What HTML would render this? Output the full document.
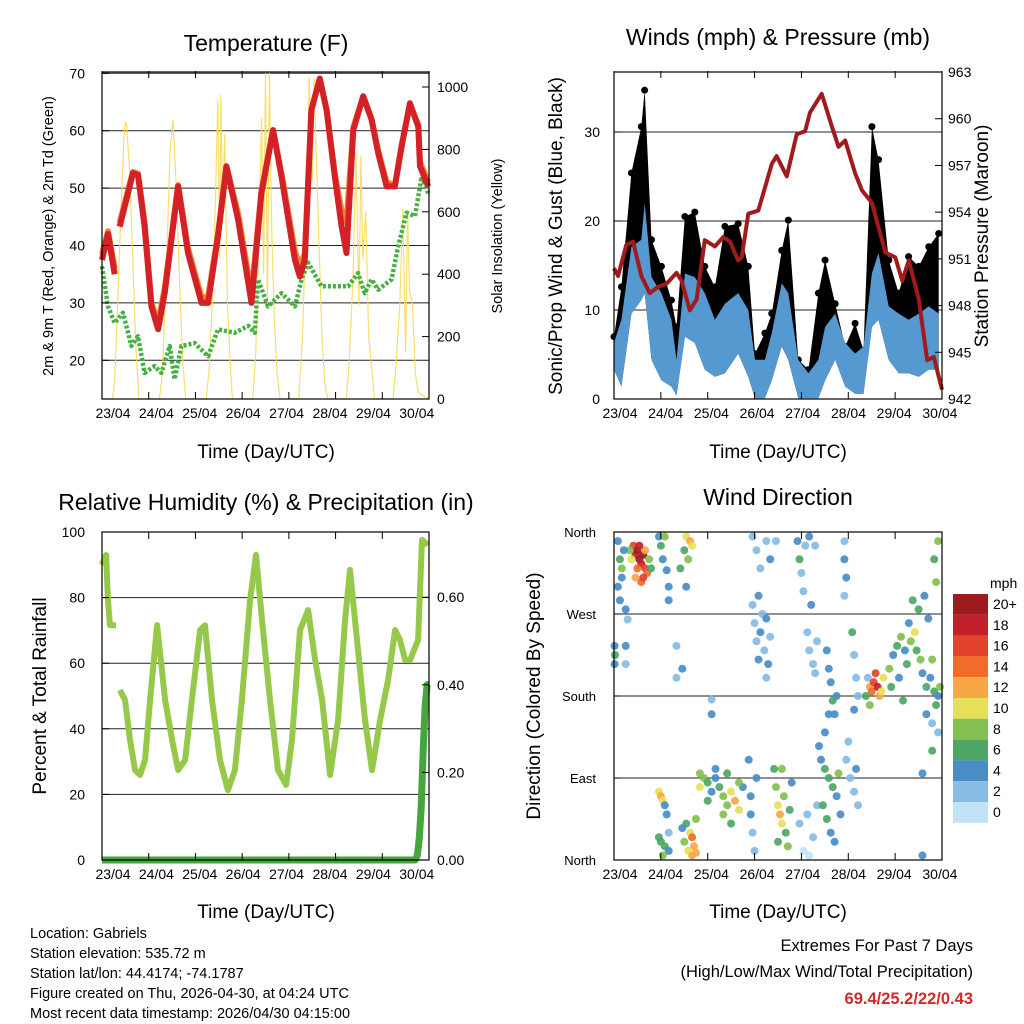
<!DOCTYPE html>
<html><head><meta charset="utf-8">
<style>
body{margin:0;background:#fff;}
svg{font-family:"Liberation Sans",sans-serif;display:block;}
</style></head>
<body>
<svg id="root" width="1024" height="1024" viewBox="0 0 1024 1024" xmlns="http://www.w3.org/2000/svg">
<rect width="1024" height="1024" fill="#fff"/>
<g id="p1"></g>
<g id="p2"></g>
<g id="p3"></g>
<g id="p4"></g>
<text x="266" y="51" font-size="23" text-anchor="middle">Temperature (F)</text>
<text x="778" y="45" font-size="23" text-anchor="middle">Winds (mph) &amp; Pressure (mb)</text>
<text x="266" y="510" font-size="23" text-anchor="middle">Relative Humidity (%) &amp; Precipitation (in)</text>
<text x="778" y="505" font-size="23" text-anchor="middle">Wind Direction</text>
<text x="266" y="458" font-size="19" text-anchor="middle">Time (Day/UTC)</text>
<text x="778" y="458" font-size="19" text-anchor="middle">Time (Day/UTC)</text>
<text x="266" y="918" font-size="19" text-anchor="middle">Time (Day/UTC)</text>
<text x="778" y="918" font-size="19" text-anchor="middle">Time (Day/UTC)</text>
<text transform="translate(53,236) rotate(-90)" font-size="14.5" text-anchor="middle">2m &amp; 9m T (Red, Orange) &amp; 2m Td (Green)</text>
<text transform="translate(502,236) rotate(-90)" font-size="14.5" text-anchor="middle">Solar Insolation (Yellow)</text>
<text transform="translate(562,236) rotate(-90)" font-size="19" text-anchor="middle">Sonic/Prop Wind &amp; Gust (Blue, Black)</text>
<text transform="translate(988,236) rotate(-90)" font-size="19" text-anchor="middle">Station Pressure (Maroon)</text>
<text transform="translate(46,696) rotate(-90)" font-size="19" text-anchor="middle">Percent &amp; Total Rainfall</text>
<text transform="translate(540,696) rotate(-90)" font-size="19" text-anchor="middle">Direction (Colored By Speed)</text>
<g font-size="14.5">
<text x="30" y="938">Location: Gabriels</text>
<text x="30" y="958">Station elevation: 535.72 m</text>
<text x="30" y="978">Station lat/lon: 44.4174; -74.1787</text>
<text x="30" y="998">Figure created on Thu, 2026-04-30, at 04:24 UTC</text>
<text x="30" y="1018">Most recent data timestamp: 2026/04/30 04:15:00</text>
</g>
<text x="973" y="951" font-size="16.5" text-anchor="end">Extremes For Past 7 Days</text>
<text x="973" y="977" font-size="16.5" text-anchor="end">(High/Low/Max Wind/Total Precipitation)</text>
<text x="973" y="1004" font-size="16.5" font-weight="bold" fill="#d02a2a" text-anchor="end">69.4/25.2/22/0.43</text>
</svg>
<script>
// ---------- data ----------
const dayLabels=["23/04","24/04","25/04","26/04","27/04","28/04","29/04","30/04"];
const tempHours=[0,3.1,6.5,null,9.1,15.9,18.5,21.9,25.4,28.8,32.2,39.1,44.2,51.1,54.5,59.6,63.9,69.9,76.8,81.9,87.9,92.2,99.1,101.6,104.2,107.6,111.9,115.4,119.6,123.1,125.6,129.1,134.2,138.5,141.9,146.2,150.5,153.9,158.2,162.5,163.4,167.6];
const temp2m=[37.5,42,35,null,43.3,52.6,52.3,43.3,29.4,25.4,31.7,50.3,38.7,30,30,41.6,53.8,44.5,30,49.1,60.1,52,37.5,34.6,37.5,63.6,69.1,63.6,52,43.3,38.7,60.1,66,61.9,56.1,50.3,50.3,57.2,64.8,60.7,53.8,50.3];
const temp9m=[38.5,42.5,36,null,44,52.8,52.5,44,30,26.5,32.5,50.5,39.5,31,31,42,53.8,45.5,31.5,49.5,60,52.5,39,36.5,38.5,63.6,69,63.6,52.5,46,44,60.5,66,62,56.5,51,50.5,57.5,64.5,61,54.5,51];
const dewHours=[0,3.1,6.5,10.8,15.1,18.5,21.9,27,30.5,34.8,37.3,40.8,47.6,54.5,59.6,68.2,75.1,78.5,80.2,85.3,92.2,99.1,102.5,105.9,112.7,119.6,126.5,131.6,135,138.5,141.9,148.8,152.2,156.5,160.8,164.2,167.6];
const dewVals=[36.4,29.4,26.5,28.3,22.5,24.2,17.8,19,17.8,22.5,16.7,22.5,23,20.7,25.4,24.8,26,24.8,34.1,29.4,31.7,29.4,34.1,37,32.9,32.9,32.9,35.2,31.7,34.1,32.3,34.1,39.9,45.7,45.1,52,49.1];
const solarHours=[0,5.5,6.5,8,10,11.5,12.5,14,16,17.5,19,29.5,31,33,35,36.5,38,40,41.5,43,53.5,55,57,58.5,59.5,60.5,61,62,63,64.5,66,67,77.5,79,80.5,82,83,84,85,86,87,88.5,90,91.5,101,103,105,106.5,108,109,110,111.5,113,114.5,116,125.5,127,129,130.5,132,133,134,135.5,137,138.5,140,149.5,151,153,154.5,156,157,158,159.5,161,162.5,168];
const solarVals=[0,0,60,300,650,870,890,750,420,150,0,0,80,400,800,895,700,350,120,0,0,90,350,700,960,450,975,600,850,300,100,0,0,150,500,900,400,1045,300,1050,600,250,80,0,0,200,600,1030,700,1028,800,500,200,50,0,0,120,400,790,300,780,450,600,200,100,0,0,100,300,610,150,600,350,300,80,20,0];
const windHours=[0,3.8,8.9,14,15.7,19.2,24.3,29.4,32,36.3,41.4,46.5,51.7,56.8,63.6,68.8,72.2,77.3,80.8,85.9,89.3,94.4,99.6,104.7,108.1,113.3,118.4,123.5,127.8,132.1,135.5,140.7,145.8,150.9,156.1,161.2,166.3];
const windMax=[6.3,8.9,17.1,17.9,22,13.7,11.9,8.9,4.4,14.1,13.7,11.9,8.9,10.7,11.9,10,4.4,4.4,7.4,13,11.9,4.4,2.9,4.4,8.1,9.6,6.3,5.1,5.9,14.1,16.4,10.4,9.6,8.9,9.6,10.4,9.6];
const windMin=[3.3,1.4,9.6,11.1,11.9,4.4,2.1,1.4,0.4,7,6.3,3.3,2.5,2.9,5.1,2.5,0.1,0.1,2.1,5.9,4.4,0.1,0.1,0.1,2.1,4.4,1.4,0.6,0.6,8.1,8.9,4.4,2.9,2.9,2.5,3.3,3.3];
const gustMax=[7,12.6,25.4,30.6,34.7,17.9,14.9,11.1,8.1,20.5,21,14.9,12.6,19.4,19.7,14.9,5.1,7.4,9.6,16.7,20.1,4.4,3.3,11.9,15.6,10.7,5.9,8.5,5.5,30.6,26.9,15.6,11.9,16,14.9,17.1,18.6];
const presHours=[0,2.1,6.3,9.8,14,18.3,22.6,26.9,32,34.6,38.8,42.3,46.5,51.7,56,59.4,63.6,65.4,68.8,73.9,80.8,83.3,88.5,93.6,97.9,100.4,106.4,111.6,115,118.4,123.5,127,132.1,139,144.1,147.6,151,156.1,160.4,163.8,168];
const presVals=[950.4,949.9,951.9,952.1,949.9,948.8,949.2,949.4,950.1,949.6,947.7,948.4,952.2,951.8,952.4,952.1,950.9,951.1,953.9,954.1,957.1,957.6,956.3,959,959.2,960.4,961.6,959.5,958.2,958.6,956.5,955.4,954.6,951.4,951.1,949.6,950.9,948.4,944.5,944.7,942.6];
const rhHours=[0,2.1,3.1,4.1,7.2,null,9.2,11.8,14.4,17,19.5,22.1,24.7,28.3,32.4,36,39.1,42.7,46.2,50.4,52.9,56.5,60.6,64.7,68.3,71.9,76.1,79.1,82.2,86.3,90.4,94.6,97.6,101.7,105.9,109.5,113.1,117.2,121.3,124.9,127.4,131,135.1,138.7,142.9,147,150.6,153.1,155.7,158.3,162.4,164.4,167.5];
const rhVals=[90,93,79,71.6,71.6,null,51.8,48.8,36.6,27.4,25.9,30.5,48.8,71.6,48.8,36.6,27.4,30.5,48.8,70.1,71.6,48.8,30.5,21.3,27.4,48.8,79.3,93,73.2,48.8,27.4,22.9,36.6,70.1,76.2,61,48.8,25.9,42.7,73.2,88.4,67.1,42.7,27.4,42.7,54.9,70.1,67.1,61,61,67.1,97.6,96];
const precipHours=[0,160.8,162,163,164,165,166,167,168];
const precipVals=[0,0,0.01,0.05,0.12,0.25,0.35,0.40,0.40];
const dirHours=[10,11,12,13,14,15,16,17,12,11,14,16,9,18,8,19,15,13,2,3,2,3,4,5,4,6,7,0.3,0.5,0.3,6,6,23,24,25,27,28,26,28,37,39,40,38,36,34,37,32,32,35,50,50,23,24,25,26,27,24,26,28,23,25,28,37,39,40,41,42,38,36,40,42,35,44,46,48,50,52,54,56,58,60,62,64,66,48,56,60,44,52,58,64,69,70,71,72,73,70,82,83,84,85,86,87,88,89,90,91,86,84,95,97,99,100,102,104,106,108,110,112,114,107,109,111,113,115,116,105,108,110,119,121,123,125,120,124,71,72,73,74,75,76,77,78,79,80,74,78,71,73,75,78,80,83,94,95,96,98,100,103,97,101,99,100,102,104,103,118,118,119,118,109,110,111,112,113,114,122,123,124,125,123,130,131,132,133,134,135,136,137,131,138,129,141,143,145,147,149,150,152,154,155,157,158,160,162,163,164,165,166,167,142,146,151,156,159,161,153,148,160,163,166,165,164,166,158,158,163];
const dirVals=[345,335,340,330,325,335,320,315,320,310,305,340,330,330,340,320,310,345,350,330,300,285,310,340,320,275,264,235,225,215,235,215,355,345,330,318,300,355,285,355,350,345,330,340,320,300,235,200,210,176,160,75,70,65,60,50,20,15,10,25,5,30,40,30,25,15,8,10,20,5,45,35,80,90,85,75,90,80,70,60,75,65,55,80,65,50,40,95,100,95,85,110,70,30,10,90,50,100,80,60,50,40,70,30,15,55,85,100,20,40,10,50,5,25,60,110,100,90,80,70,60,45,30,20,95,50,125,140,160,110,90,75,60,130,100,280,260,240,220,250,270,230,200,215,245,290,265,355,340,320,350,330,350,350,330,315,345,355,345,295,280,250,230,215,240,205,350,330,310,290,230,210,195,175,160,180,250,225,200,180,165,200,190,185,195,205,190,180,185,170,200,180,210,225,235,245,230,215,240,250,230,220,205,190,200,220,185,170,180,190,190,200,260,275,290,265,285,175,160,150,140,305,330,350,95,5,120];
const dirSpeeds=[16,18,20,20,18,20,16,14,14,12,14,12,10,8,8,6,16,18,4,6,4,4,4,4,8,4,2,4,6,4,4,2,4,6,4,4,4,8,4,10,12,10,8,6,6,4,2,2,4,2,4,10,12,10,4,4,6,6,4,6,8,2,6,10,14,12,12,10,8,12,8,4,10,8,6,4,4,6,8,8,10,12,10,4,6,8,6,8,4,6,8,4,4,2,2,4,4,6,8,10,12,10,8,6,8,6,4,8,6,2,0,2,0,2,2,4,6,6,6,4,6,6,4,4,8,4,4,4,4,2,2,2,2,2,4,2,2,2,4,4,2,2,2,4,2,4,4,2,2,2,2,4,2,4,6,2,2,4,2,2,4,2,2,2,2,2,2,4,4,2,4,4,4,6,4,4,6,2,2,2,4,2,12,14,16,16,18,12,10,8,10,6,8,4,6,8,4,6,8,10,6,8,4,6,4,8,6,6,4,8,6,4,4,6,4,4,6,6,4,2,2,8,6,8,4,4,6];
const cbLabels=["20+","18","16","14","12","10","8","6","4","2","0"];
const cbColors=["#9b1b1e","#c2202a","#e3422c","#f06c2b","#f8a745","#e6df5a","#83c04f","#4da664","#4a8dc4","#86bce6","#c2e3f7"];
// ---------- helpers ----------
const NS="http://www.w3.org/2000/svg";
function mk(tag,parent){const e=document.createElementNS(NS,tag);parent.appendChild(e);return e;}
function sa(e,o){for(const k in o)e.setAttribute(k,o[k]);return e;}
function pathFrom(xs,ys,fx,fy){let d="",pen=false;for(let i=0;i<xs.length;i++){if(xs[i]===null||ys[i]===null){pen=false;continue;}d+=(pen?"L":"M")+fx(xs[i]).toFixed(1)+","+fy(ys[i]).toFixed(1);pen=true;}return d;}
const P1=document.getElementById("p1"),P2=document.getElementById("p2"),P3=document.getElementById("p3"),P4=document.getElementById("p4");
// scales
const xL=h=>102+h*(327/168), xR=h=>614+h*(328/168);
const yT=v=>399-(v-13.26)*5.74, ySol=v=>399-v*0.312;
const yW=v=>399-v*8.9, yP=v=>399-(v-942)*15.57;
const yRH=v=>860-v*3.28, yPr=v=>860-v*438;
const yD=d=>860-d*(328/360);
function frame(g,x0,y0,x1,y1){const r=mk("rect",g);sa(r,{x:x0,y:y0,width:x1-x0,height:y1-y0,fill:"none",stroke:"#000","stroke-width":1.2});

}
function grid(g,y,x0,x1){const l=mk("line",g);sa(l,{x1:x0,x2:x1,y1:y,y2:y,stroke:"#222","stroke-width":1});

}
function label(g,x,y,txt,anchor,size){const t=mk("text",g);sa(t,{x:x,y:y,"text-anchor":anchor,"font-size":size||14});t.textContent=txt;

return t;}
function tick(g,x1,y1,x2,y2){const l=mk("line",g);sa(l,{x1:x1,y1:y1,x2:x2,y2:y2,stroke:"#000","stroke-width":1});

}
function xAxis(g,xf,x0,y,labStart,labStep){for(let i=0;i<8;i++){const x=xf(i*24);tick(g,x,y,x,y-7);tick(g,x,y-328,x,y-321);label(g,labStart+i*labStep,y+19,dayLabels[i],"middle",14);}}
// ---------- panel 1 ----------
[20,30,40,50,60,70].forEach(v=>grid(P1,yT(v),102,429));
{const sp=mk("path",P1);sa(sp,{d:pathFrom(solarHours,solarVals,xL,ySol),fill:"none",stroke:"#f7dc5a","stroke-width":1.2,opacity:0.9});

}
{const dp=mk("path",P1);sa(dp,{d:pathFrom(dewHours,dewVals,xL,yT),fill:"none",stroke:"#46b043","stroke-width":4.5,"stroke-dasharray":"3 2","stroke-linejoin":"round"});

}
{const op=mk("path",P1);sa(op,{d:pathFrom(tempHours,temp9m,xL,yT),fill:"none",stroke:"#f08030","stroke-width":6,"stroke-linejoin":"round"});

}
{const rp=mk("path",P1);sa(rp,{d:pathFrom(tempHours,temp2m,xL,yT),fill:"none",stroke:"#d42128","stroke-width":6,"stroke-linejoin":"round"});

}
frame(P1,102,72,429,399);
[20,30,40,50,60,70].forEach(v=>{tick(P1,102,yT(v),109,yT(v));label(P1,85,yT(v)+5,String(v),"end",14);});
[0,200,400,600,800,1000].forEach(v=>{tick(P1,429,ySol(v),422,ySol(v));label(P1,437,ySol(v)+5,String(v),"start",14);});
xAxis(P1,xL,102,399,113,43.4);
// ---------- panel 2 ----------
[10,20,30].forEach(v=>grid(P2,yW(v),614,942));
{const pts=[];windHours.forEach((h,i)=>pts.push(xR(h).toFixed(1)+","+yW(gustMax[i]).toFixed(1)));for(let i=windHours.length-1;i>=0;i--)pts.push(xR(windHours[i]).toFixed(1)+","+yW(windMin[i]).toFixed(1));
const gb=mk("polygon",P2);sa(gb,{points:pts.join(" "),fill:"#000"});

}
windHours.forEach((h,i)=>{const c=mk("circle",P2);sa(c,{cx:xR(h),cy:yW(gustMax[i]),r:3.5,fill:"#000"});

});
{const pts=[];windHours.forEach((h,i)=>pts.push(xR(h).toFixed(1)+","+yW(windMax[i]).toFixed(1)));for(let i=windHours.length-1;i>=0;i--)pts.push(xR(windHours[i]).toFixed(1)+","+yW(windMin[i]).toFixed(1));
const wb=mk("polygon",P2);sa(wb,{points:pts.join(" "),fill:"#5599d0"});

}
{const pp=mk("path",P2);sa(pp,{d:pathFrom(presHours,presVals,xR,yP),fill:"none",stroke:"#a01b1b","stroke-width":4,"stroke-linejoin":"round"});

}
frame(P2,614,72,942,399);
[0,10,20,30].forEach(v=>{tick(P2,614,yW(v),621,yW(v));label(P2,600,yW(v)+5,String(v),"end",14);});
[942,945,948,951,954,957,960,963].forEach(v=>{tick(P2,942,yP(v),935,yP(v));label(P2,948,yP(v)+5,String(v),"start",14);});
xAxis(P2,xR,614,399,620,45.7);
// ---------- panel 3 ----------
[20,40,60,80,100].forEach(v=>grid(P3,yRH(v),102,429));
{const hp=mk("path",P3);sa(hp,{d:pathFrom(rhHours,rhVals,xL,yRH),fill:"none",stroke:"#96c94a","stroke-width":6,"stroke-linejoin":"round"});

}
{const pr=mk("path",P3);sa(pr,{d:pathFrom(precipHours,precipVals,xL,yPr),fill:"none",stroke:"#44a63c","stroke-width":7,"stroke-linejoin":"round"});

}
frame(P3,102,532,429,860);
[0,20,40,60,80,100].forEach(v=>{tick(P3,102,yRH(v),109,yRH(v));label(P3,85,yRH(v)+5,String(v),"end",14);});
[0,0.2,0.4,0.6].forEach(v=>{tick(P3,429,yPr(v),422,yPr(v));label(P3,437,yPr(v)+5,v.toFixed(2),"start",14);});
xAxis(P3,xL,102,860,113,43.4);
// ---------- panel 4 ----------
const dirNames=["North","East","South","West","North"];
[0,90,180,270,360].forEach((d,i)=>{grid(P4,yD(d),614,942);tick(P4,614,yD(d),621,yD(d));label(P4,596,yD(d)+5,dirNames[i],"end",13);});
dirHours.forEach((h,i)=>{const c=mk("circle",P4);const idx=Math.max(0,10-Math.min(10,Math.floor(dirSpeeds[i]/2)));sa(c,{cx:xR(h).toFixed(1),cy:yD(dirVals[i]).toFixed(1),r:4,fill:cbColors[idx],opacity:0.92});

});
frame(P4,614,532,942,860);
xAxis(P4,xR,614,860,620,45.7);
// colorbar
label(P4,990,588,"mph","start",14);
cbLabels.forEach((l,i)=>{const r=mk("rect",P4);sa(r,{x:953,y:594+i*20.8,width:35,height:20.8,fill:cbColors[i]});


label(P4,993,609+i*20.8,l,"start",14);});
</script>
</body></html>
